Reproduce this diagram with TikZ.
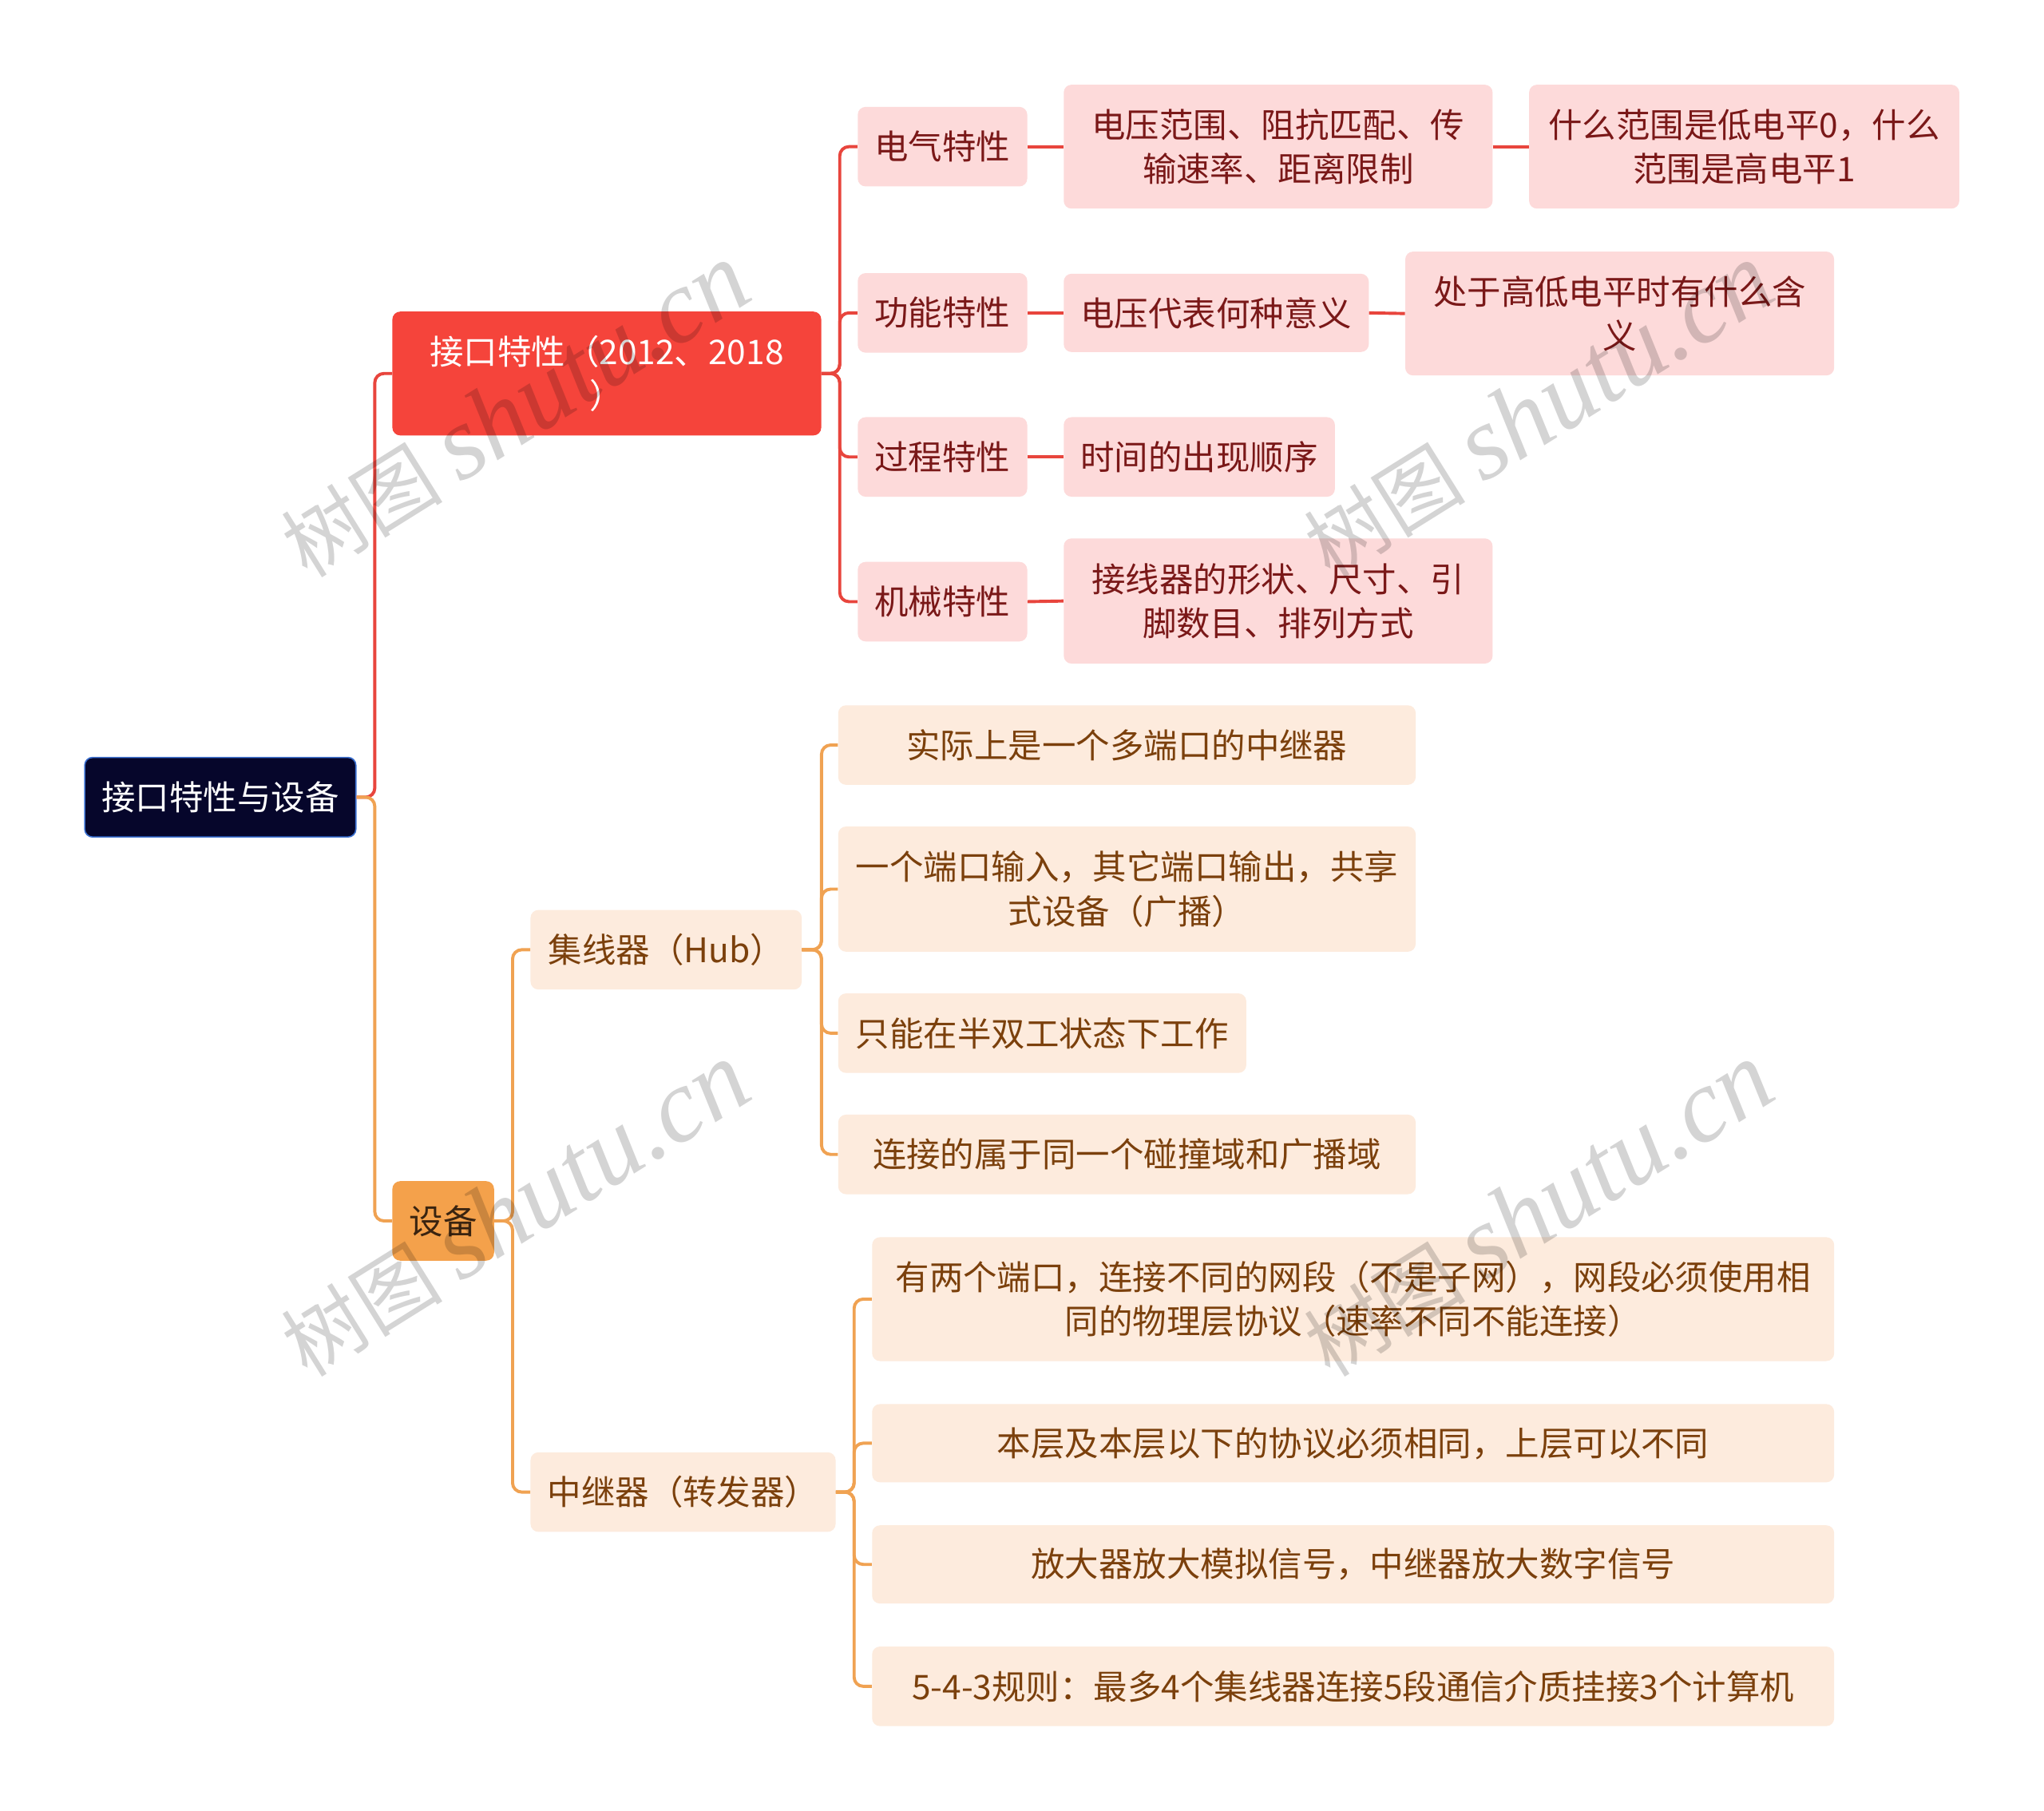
\documentclass[tikz,border=0pt]{standalone}
\usepackage{fontspec}
\setmainfont{Noto Sans CJK SC}
\newfontfamily\wmlatin{Liberation Serif}
\usepackage{tikz}
\usepackage{xcolor}

\definecolor{rootfill}{HTML}{06062B}
\definecolor{rootedge}{HTML}{3A6FD0}
\definecolor{techred}{HTML}{F5443B}
\definecolor{techline}{HTML}{E8453D}
\definecolor{techpale}{HTML}{FDDADA}
\definecolor{techtext}{HTML}{7A1818}
\definecolor{devorange}{HTML}{F4A14B}
\definecolor{devdark}{HTML}{3A2410}
\definecolor{devline}{HTML}{F0A252}
\definecolor{devpale}{HTML}{FDEBDD}
\definecolor{devtext}{HTML}{7B400C}

\begin{document}
\begin{tikzpicture}[x=1pt, y=-1pt,
        topic/.style={rectangle, rounded corners=6pt, inner sep=0pt, align=center, font=\fontsize{26pt}{34pt}\selectfont},
        rootbox/.style={topic, fill=rootfill, draw=rootedge, line width=1pt, text=white},
        techbox/.style={topic, fill=techred, text=white},
        techsub/.style={topic, fill=techpale, text=techtext},
        devbox/.style={topic, fill=devorange, text=devdark},
        devsub/.style={topic, fill=devpale, text=devtext},
        techlink/.style={draw=techline, line width=2.4pt, rounded corners=7pt},
        devlink/.style={draw=devline, line width=2.4pt, rounded corners=7pt},
        wmark/.style={rotate=32, text=black, text opacity=0.17, inner sep=0pt}
    ]
        \useasboundingbox[fill=white] (0,0) rectangle (1568,1389);

        % Root
        \node[rootbox, minimum width=208pt, minimum height=61pt] (root) at (169, 611.5) {接口特性与设备};

        % Interface characteristics
        \node[techbox, minimum width=329pt, minimum height=95pt] (tech) at (465.5, 286.5) {接口特性（2012、2018\\）};
        \node[techsub, minimum width=130pt, minimum height=61pt] (elec) at (723, 112.5) {电气特性};
        \node[techsub, minimum width=130pt, minimum height=61pt] (func) at (723, 240) {功能特性};
        \node[techsub, minimum width=130pt, minimum height=61pt] (proc) at (723, 350.5) {过程特性};
        \node[techsub, minimum width=130pt, minimum height=61pt] (mech) at (723, 461.5) {机械特性};

        \node[techsub, minimum width=329pt, minimum height=95pt] (elecA) at (980.5, 112.5) {电压范围、阻抗匹配、传\\输速率、距离限制};
        \node[techsub, minimum width=330pt, minimum height=95pt] (elecB) at (1338, 112.5) {什么范围是低电平0，什么\\范围是高电平1};
        \node[techsub, minimum width=234pt, minimum height=60pt] (funcA) at (933, 240) {电压代表何种意义};
        \node[techsub, minimum width=329pt, minimum height=95pt] (funcB) at (1242.5, 240.5) {处于高低电平时有什么含\\义};
        \node[techsub, minimum width=208pt, minimum height=61pt] (procA) at (920, 350.5) {时间的出现顺序};
        \node[techsub, minimum width=329pt, minimum height=96pt] (mechA) at (980.5, 461) {接线器的形状、尺寸、引\\脚数目、排列方式};

        % Devices
        \node[devbox, minimum width=78pt, minimum height=61pt] (dev) at (340, 936.5) {设备};
        \node[devsub, minimum width=208pt, minimum height=61pt] (hub) at (511, 728.5) {集线器（Hub）};
        \node[devsub, minimum width=234pt, minimum height=61pt] (rep) at (524, 1144.5) {中继器（转发器）};

        \node[devsub, minimum width=443pt, minimum height=61pt] (hubA) at (864.5, 571.5) {实际上是一个多端口的中继器};
        \node[devsub, minimum width=443pt, minimum height=96pt] (hubB) at (864.5, 682) {一个端口输入，其它端口输出，共享\\式设备（广播）};
        \node[devsub, minimum width=313pt, minimum height=61pt] (hubC) at (799.5, 792.5) {只能在半双工状态下工作};
        \node[devsub, minimum width=443pt, minimum height=61pt] (hubD) at (864.5, 885.5) {连接的属于同一个碰撞域和广播域};

        \node[devsub, minimum width=738pt, minimum height=95pt] (repA) at (1038, 996.5) {有两个端口，连接不同的网段（不是子网），网段必须使用相\\同的物理层协议（速率不同不能连接）};
        \node[devsub, minimum width=738pt, minimum height=60pt] (repB) at (1038, 1107) {本层及本层以下的协议必须相同，上层可以不同};
        \node[devsub, minimum width=738pt, minimum height=60pt] (repC) at (1038, 1200) {放大器放大模拟信号，中继器放大数字信号};
        \node[devsub, minimum width=738pt, minimum height=61pt] (repD) at (1038, 1293.5) {5-4-3规则：最多4个集线器连接5段通信介质挂接3个计算机};

        % Connections
        \draw[techlink] (root.east) -- ++(14,0) |- (tech.west);
        \draw[devlink] (root.east) -- ++(14,0) |- (dev.west);
        \foreach \c in {elec,func,proc,mech}
            \draw[techlink] (tech.east) -- ++(14,0) |- (\c.west);
        \draw[techlink] (elec.east) -- (elecA.west);
        \draw[techlink] (elecA.east) -- (elecB.west);
        \draw[techlink] (func.east) -- (funcA.west);
        \draw[techlink] (funcA.east) -- (funcB.west);
        \draw[techlink] (proc.east) -- (procA.west);
        \draw[techlink] (mech.east) -- (mechA.west);
        \foreach \c in {hub,rep}
            \draw[devlink] (dev.east) -- ++(14,0) |- (\c.west);
        \foreach \c in {hubA,hubB,hubC,hubD}
            \draw[devlink] (hub.east) -- ++(15,0) |- (\c.west);
        \foreach \c in {repA,repB,repC,repD}
            \draw[devlink] (rep.east) -- ++(14,0) |- (\c.west);

        % Watermark
        \foreach \p/\n in {{(395,315)}/wmA, {(1180,315)}/wmB, {(395,928)}/wmC, {(1180,928)}/wmD}
            \node[wmark] (\n) at \p {\fontsize{62pt}{62pt}\selectfont 树图 {\wmlatin\itshape\fontsize{80pt}{80pt}\selectfont shutu.cn}};
    \end{tikzpicture}
\end{document}
